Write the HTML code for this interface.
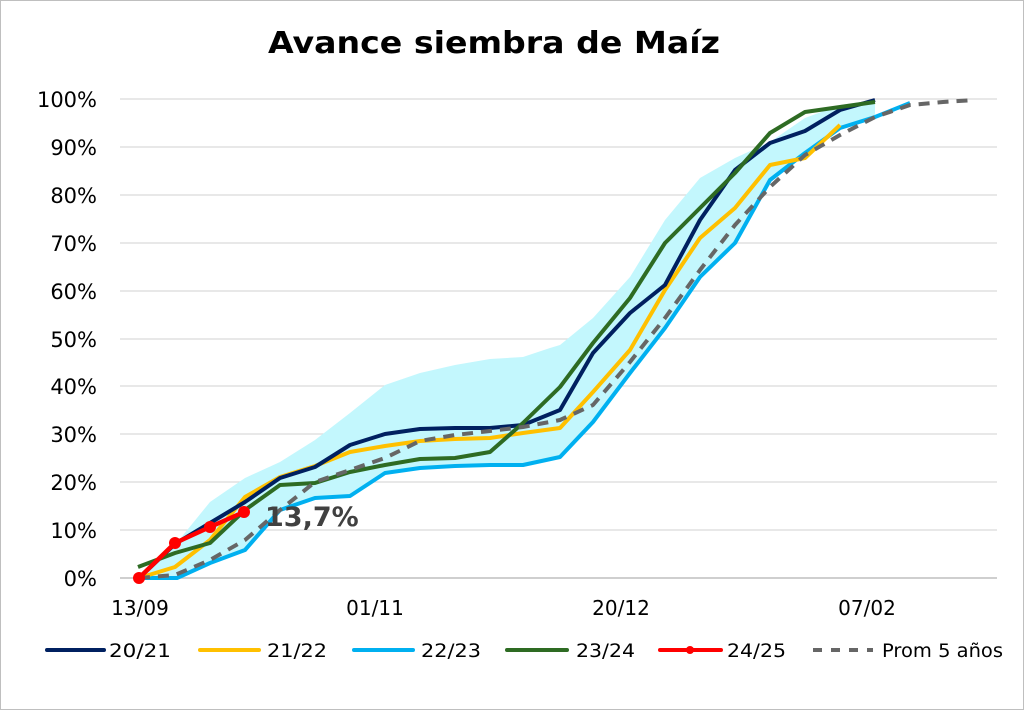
<!DOCTYPE html>
<html><head><meta charset="utf-8"><style>
body{margin:0;background:#fff;}
svg{display:block;font-family:"DejaVu Sans","Liberation Sans",sans-serif;}
</style></head><body>
<svg width="1024" height="710" viewBox="0 0 1024 710">
<rect x="0.5" y="0.5" width="1023" height="709" fill="#fff" stroke="#bfbfbf"/>
<text x="268" y="53" textLength="452" lengthAdjust="spacingAndGlyphs" font-size="30" font-weight="bold" fill="#000">Avance siembra de Maíz</text>
<g stroke="#d9d9d9" stroke-width="1.2">
<line x1="120" x2="997" y1="99" y2="99"/><line x1="120" x2="997" y1="147" y2="147"/>
<line x1="120" x2="997" y1="195" y2="195"/><line x1="120" x2="997" y1="243" y2="243"/>
<line x1="120" x2="997" y1="291" y2="291"/><line x1="120" x2="997" y1="339" y2="339"/>
<line x1="120" x2="997" y1="386" y2="386"/><line x1="120" x2="997" y1="434" y2="434"/>
<line x1="120" x2="997" y1="482" y2="482"/><line x1="120" x2="997" y1="530" y2="530"/>
</g>
<line x1="120" x2="997" y1="578" y2="578" stroke="#bfbfbf" stroke-width="1.5"/>
<g font-size="21" text-anchor="end" fill="#000">
<text x="97" y="107">100%</text><text x="97" y="155">90%</text><text x="97" y="203">80%</text>
<text x="97" y="251">70%</text><text x="97" y="299">60%</text><text x="97" y="347">50%</text>
<text x="97" y="394">40%</text><text x="97" y="442">30%</text><text x="97" y="490">20%</text>
<text x="97" y="538">10%</text><text x="97" y="586">0%</text>
</g>
<g font-size="20" text-anchor="middle" fill="#000">
<text x="140" y="615">13/09</text><text x="375" y="615">01/11</text>
<text x="621" y="615">20/12</text><text x="867" y="615">07/02</text>
</g>
<polygon fill="#c3f7fd" points="139,578 175,545 210,502 245,478 280,462 315,440 350,413 385,385 420,373 455,365 490,359 523,357 550,348 560,345 593,318 630,277 665,220 700,178 735,158 770,142 805,118 840,105 875,100 875,117 840,128 805,153 770,180 735,243 700,277 665,328 630,373 593,422 560,457 523,465 490,465 455,466 420,468 385,473 350,496 315,498 280,510 245,550 210,563 177,578"/>
<g fill="none" stroke-width="4" stroke-linejoin="round">
<polyline stroke="#00b0f0" points="139,578 177,578 210,563 245,550 280,510 315,498 350,496 385,473 420,468 455,466 490,465 523,465 560,457 593,422 630,373 665,328 700,277 735,243 770,180 805,153 840,128 875,117 910,103"/>
<polyline stroke="#ffc000" points="139,578 175,567 210,540 245,497 280,477 315,466 350,452 385,446 420,441 455,439 490,438 523,433 560,428 593,392 630,350 665,290 700,238 735,208 770,165 805,158 840,125"/>
<polyline stroke="#002060" points="139,578 175,544 210,523 245,502 280,478 315,467 350,445 385,434 420,429 455,428 490,428 523,425 560,410 593,353 630,313 665,285 700,220 735,170 770,143 805,131 840,110 875,100"/>
<polyline stroke="#2e6b23" points="138,567 175,553 210,543 245,510 280,485 315,483 350,472 385,465 420,459 455,458 490,452 523,423 560,387 593,343 630,298 665,243 700,208 735,173 770,133 805,112 840,107 875,102"/>
<polyline stroke="#666" stroke-dasharray="11,8" points="139,578 175,575 210,560 245,540 280,510 315,482 350,470 385,458 420,441 455,435 490,431 523,427 560,420 593,405 630,362 665,318 700,270 735,225 770,187 805,155 840,135 875,117 910,105 943,102 975,100"/>
<polyline stroke="#ff0000" stroke-width="4.5" points="139,578 175,543 210,527 244,512"/>
</g>
<g fill="#ff0000"><circle cx="139" cy="578" r="6"/><circle cx="175" cy="543" r="6"/><circle cx="210" cy="527" r="6"/><circle cx="244" cy="512" r="6"/></g>
<text x="265" y="526" font-size="27" font-weight="bold" fill="#404040">13,7%</text>
<g stroke-width="4" stroke-linecap="round">
<line x1="47" x2="104" y1="650" y2="650" stroke="#002060"/>
<line x1="200" x2="259" y1="650" y2="650" stroke="#ffc000"/>
<line x1="354" x2="413" y1="650" y2="650" stroke="#00b0f0"/>
<line x1="507" x2="567" y1="650" y2="650" stroke="#2e6b23"/>
<line x1="660" x2="721" y1="650" y2="650" stroke="#ff0000"/>
<line x1="813" x2="873" y1="650" y2="650" stroke="#666" stroke-dasharray="9,9" stroke-linecap="butt"/>
</g>
<circle cx="690" cy="650" r="4" fill="#ff0000"/>
<g font-size="19" fill="#000">
<text x="109" y="657" textLength="62" lengthAdjust="spacingAndGlyphs">20/21</text>
<text x="267" y="657" textLength="60" lengthAdjust="spacingAndGlyphs">21/22</text>
<text x="421" y="657" textLength="60" lengthAdjust="spacingAndGlyphs">22/23</text>
<text x="576" y="657" textLength="59" lengthAdjust="spacingAndGlyphs">23/24</text>
<text x="727" y="657" textLength="59" lengthAdjust="spacingAndGlyphs">24/25</text>
<text x="882" y="657" textLength="121" lengthAdjust="spacingAndGlyphs">Prom 5 años</text>
</g>
</svg>
</body></html>
